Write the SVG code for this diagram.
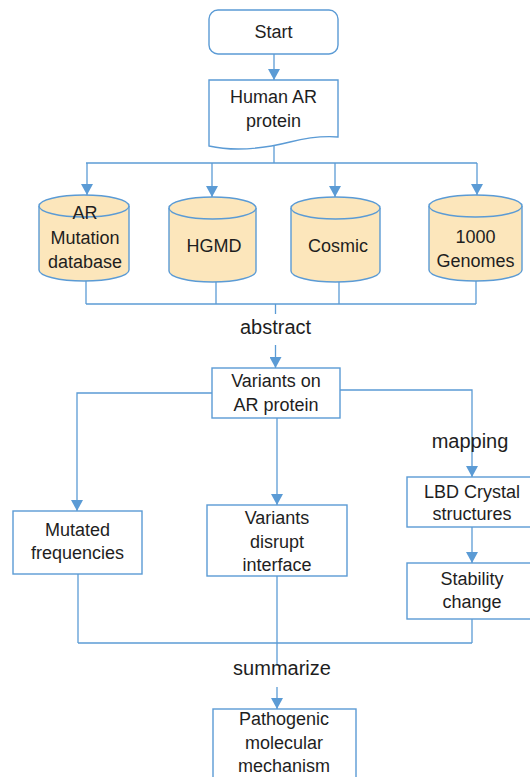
<svg xmlns="http://www.w3.org/2000/svg" width="530" height="777" viewBox="0 0 530 777">
<style>
.box{fill:#ffffff;stroke:#5b9bd5;stroke-width:1.4}
.cyl{fill:#fce6bb;stroke:#5b9bd5;stroke-width:1.4}
.t{font-family:"Liberation Sans",Arial,sans-serif;font-size:18px;fill:#1e1e1e;text-anchor:middle}
.lbl{font-family:"Liberation Sans",Arial,sans-serif;font-size:20px;fill:#1e1e1e;text-anchor:middle}
.c{fill:none;stroke:#5b9bd5;stroke-width:1.3}
.a{marker-end:url(#arr)}
</style>
<defs>
<marker id="arr" viewBox="0 0 11 12" markerUnits="userSpaceOnUse" markerWidth="11" markerHeight="12" refX="11" refY="6" orient="auto">
<path d="M0,0 L11,6 L0,12 z" fill="#5b9bd5"/>
</marker>
</defs>
<rect width="530" height="777" fill="#ffffff"/>
<g id="connectors">
<line class="c a" x1="274" y1="54" x2="274" y2="80"/>
<line class="c" x1="274" y1="144" x2="274" y2="163"/>
<line class="c" x1="86" y1="163" x2="477" y2="163"/>
<line class="c a" x1="87" y1="163" x2="87" y2="195"/>
<line class="c a" x1="212" y1="163" x2="212" y2="197"/>
<line class="c a" x1="335" y1="163" x2="335" y2="197"/>
<line class="c a" x1="477" y1="163" x2="477" y2="195"/>
<line class="c" x1="86" y1="280" x2="86" y2="304"/>
<line class="c" x1="216" y1="281" x2="216" y2="304"/>
<line class="c" x1="339" y1="281" x2="339" y2="304"/>
<line class="c" x1="476" y1="280" x2="476" y2="304"/>
<line class="c" x1="86" y1="304" x2="476" y2="304"/>
<line class="c" x1="275.5" y1="304" x2="275.5" y2="314"/>
<line class="c a" x1="275.5" y1="345" x2="275.5" y2="368"/>
<polyline class="c a" points="212,393 77,393 77,511"/>
<polyline class="c a" points="340,390 472,390 472,477"/>
<line class="c a" x1="277" y1="418" x2="277" y2="505"/>
<line class="c a" x1="472" y1="527" x2="472" y2="563"/>
<line class="c" x1="78" y1="574" x2="78" y2="643"/>
<line class="c" x1="472" y1="619" x2="472" y2="643"/>
<line class="c" x1="78" y1="643" x2="472" y2="643"/>
<line class="c" x1="277" y1="576" x2="277" y2="666"/>
<line class="c a" x1="277" y1="687" x2="277" y2="709"/>
</g>
<g id="start">
<rect class="box" x="209" y="10" width="129" height="44" rx="9"/>
<text class="t" x="273.5" y="38">Start</text>
</g>
<g id="human-ar">
<path class="box" d="M209,80 L338,80 L338,137 C325,136 310,137 290,142 C270,147 240,153 209,146 Z"/>
<text class="t" x="273.5" y="103">Human AR</text>
<text class="t" x="273.5" y="127">protein</text>
</g>
<g id="ar-mutation-db">
<path class="cyl" d="M39,206 A45,11 0 0 1 129,206 L129,270 A45,11 0 0 1 39,270 Z"/>
<path class="cyl" d="M39,206 A45,11 0 0 0 129,206" fill="none"/>
<text class="t" x="85" y="219">AR</text>
<text class="t" x="85" y="244">Mutation</text>
<text class="t" x="85" y="268">database</text>
</g>
<g id="hgmd">
<path class="cyl" d="M169,208 A43.5,11 0 0 1 256,208 L256,271 A43.5,11 0 0 1 169,271 Z"/>
<path class="cyl" d="M169,208 A43.5,11 0 0 0 256,208" fill="none"/>
<text class="t" x="214" y="252">HGMD</text>
</g>
<g id="cosmic">
<path class="cyl" d="M291,208 A44.5,11 0 0 1 380,208 L380,271 A44.5,11 0 0 1 291,271 Z"/>
<path class="cyl" d="M291,208 A44.5,11 0 0 0 380,208" fill="none"/>
<text class="t" x="338" y="252">Cosmic</text>
</g>
<g id="genomes">
<path class="cyl" d="M429,206 A46.5,11 0 0 1 522,206 L522,270 A46.5,11 0 0 1 429,270 Z"/>
<path class="cyl" d="M429,206 A46.5,11 0 0 0 522,206" fill="none"/>
<text class="t" x="475.5" y="243">1000</text>
<text class="t" x="475.5" y="267">Genomes</text>
</g>
<g id="label-abstract">
<text class="lbl" x="275.5" y="334">abstract</text>
</g>
<g id="variants-ar">
<rect class="box" x="212" y="368" width="128" height="50"/>
<text class="t" x="276" y="387">Variants on</text>
<text class="t" x="276" y="411">AR protein</text>
</g>
<g id="label-mapping">
<text class="lbl" x="470" y="448">mapping</text>
</g>
<g id="mutated">
<rect class="box" x="13" y="511" width="129" height="63"/>
<text class="t" x="77.5" y="536">Mutated</text>
<text class="t" x="77.5" y="559">frequencies</text>
</g>
<g id="disrupt">
<rect class="box" x="207" y="505" width="140" height="71"/>
<text class="t" x="277" y="524">Variants</text>
<text class="t" x="277" y="548">disrupt</text>
<text class="t" x="277" y="571">interface</text>
</g>
<g id="lbd">
<rect class="box" x="407" y="477" width="130" height="50"/>
<text class="t" x="472" y="498">LBD Crystal</text>
<text class="t" x="472" y="520">structures</text>
</g>
<g id="stability">
<rect class="box" x="407" y="563" width="130" height="56"/>
<text class="t" x="472" y="585">Stability</text>
<text class="t" x="472" y="608">change</text>
</g>
<g id="label-summarize">
<text class="lbl" x="282" y="675">summarize</text>
</g>
<g id="pathogenic">
<rect class="box" x="213" y="709" width="143" height="80"/>
<text class="t" x="284" y="725">Pathogenic</text>
<text class="t" x="284" y="749">molecular</text>
<text class="t" x="284" y="772">mechanism</text>
</g>
</svg>
